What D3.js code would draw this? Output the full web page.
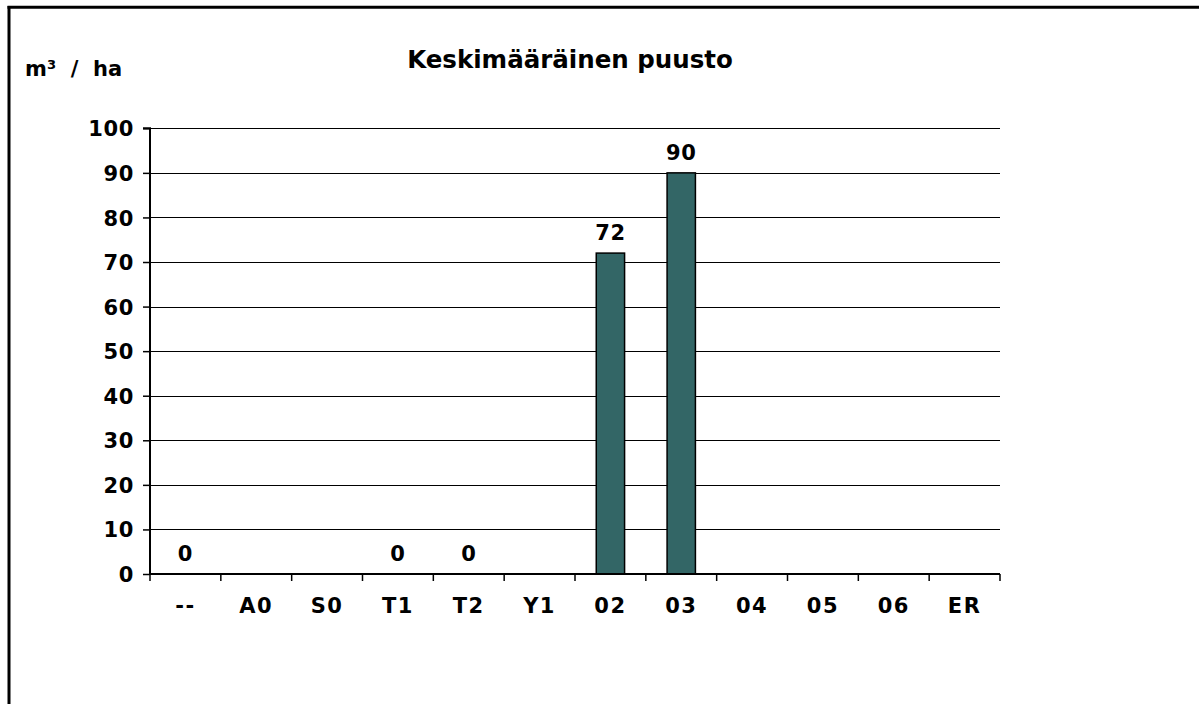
<!DOCTYPE html>
<html><head><meta charset="utf-8">
<script src="https://cdn.jsdelivr.net/npm/d3@7"></script>
<style>
html,body{margin:0;padding:0;background:#fff;}
svg{display:block;}
text{font-family:"DejaVu Sans",Verdana,sans-serif;font-weight:bold;fill:#000;}
</style></head>
<body>
<script>
const categories = ["--","A0","S0","T1","T2","Y1","02","03","04","05","06","ER"];
const values = [0,null,null,0,0,null,72,90,null,null,null,null];
const yTicks = [0,10,20,30,40,50,60,70,80,90,100];
const title = "Keskimääräinen puusto";
const yLabel = "m³  /  ha";

const W = 1199, H = 704;
const svg = d3.select("body").append("svg").attr("width", W).attr("height", H);

// frame (cropped: only left and top visible)
svg.append("line").attr("x1",9).attr("x2",9).attr("y1",6).attr("y2",H).attr("stroke","#000").attr("stroke-width",3);
svg.append("line").attr("x1",7.5).attr("x2",W).attr("y1",7.2).attr("y2",7.2).attr("stroke","#000").attr("stroke-width",3);

const pLeft = 150, pRight = 1000, pTop = 128.3, pBottom = 574;
const x = d3.scaleBand().domain(categories).range([pLeft, pRight]).padding(0);
const y = d3.scaleLinear().domain([0,100]).range([pBottom, pTop]);

// gridlines
svg.append("g").selectAll("line").data(yTicks.filter(d=>d>0)).join("line")
  .attr("x1", pLeft).attr("x2", pRight)
  .attr("y1", d=>Math.round(y(d))+0.5).attr("y2", d=>Math.round(y(d))+0.5)
  .attr("stroke","#000").attr("stroke-width",1);

// bars
const bw = x.bandwidth()*0.4;
const data = categories.map((c,i)=>({c, v: values[i]}));
svg.append("g").selectAll("rect").data(data.filter(d=>d.v!==null && d.v>0)).join("rect")
  .attr("x", d=>x(d.c)+x.bandwidth()/2-bw/2)
  .attr("width", bw)
  .attr("y", d=>y(d.v))
  .attr("height", d=>y(0)-y(d.v))
  .attr("fill","#336666").attr("stroke","#000").attr("stroke-width",1.5);

// y axis
const yAxis = d3.axisLeft(y).tickValues(yTicks).tickSize(7).tickPadding(9).tickFormat(d3.format("d"));
const gy = svg.append("g").attr("transform",`translate(${pLeft},0)`).call(yAxis);
gy.select(".domain").attr("stroke","#000").attr("stroke-width",2).attr("d",`M-7,${pTop}H0V${pBottom}`);
gy.selectAll(".tick line").attr("stroke","#000").attr("stroke-width",1.5);
gy.selectAll(".tick text").style("font-size","21px").style("letter-spacing","0.6px").style("font-family","'DejaVu Sans',Verdana,sans-serif").style("font-weight","bold").attr("fill","#000").attr("dy","0.36em");

// x axis
const xTickPos = d3.range(categories.length+1).map(i=>pLeft + i*x.step());
const gx = svg.append("g");
gx.append("line").attr("x1",pLeft).attr("x2",pRight).attr("y1",pBottom).attr("y2",pBottom).attr("stroke","#000").attr("stroke-width",2);
gx.selectAll("line.t").data(xTickPos).join("line").attr("class","t")
  .attr("x1",d=>d).attr("x2",d=>d).attr("y1",pBottom).attr("y2",pBottom+7)
  .attr("stroke","#000").attr("stroke-width",1.5);
gx.selectAll("text").data(categories).join("text")
  .attr("x", d=>x(d)+x.bandwidth()/2).attr("y", 612.5)
  .attr("text-anchor","middle").style("font-size","21px").style("letter-spacing","1.5px").text(d=>d);

// data labels
svg.append("g").selectAll("text").data(data.filter(d=>d.v!==null)).join("text")
  .attr("x", d=>x(d.c)+x.bandwidth()/2)
  .attr("y", d=>y(d.v)-13)
  .attr("text-anchor","middle").style("font-size","21px").style("letter-spacing","0.6px").text(d=>d.v);

// title
svg.append("text").attr("x",570).attr("y",67.5).attr("text-anchor","middle").style("font-size","24.5px").text(title);
// y label
svg.append("text").attr("x",25).attr("y",76).style("font-size","21px").style("letter-spacing","0px").style("white-space","pre").attr("xml:space","preserve").text(yLabel);
</script>
</body></html>
